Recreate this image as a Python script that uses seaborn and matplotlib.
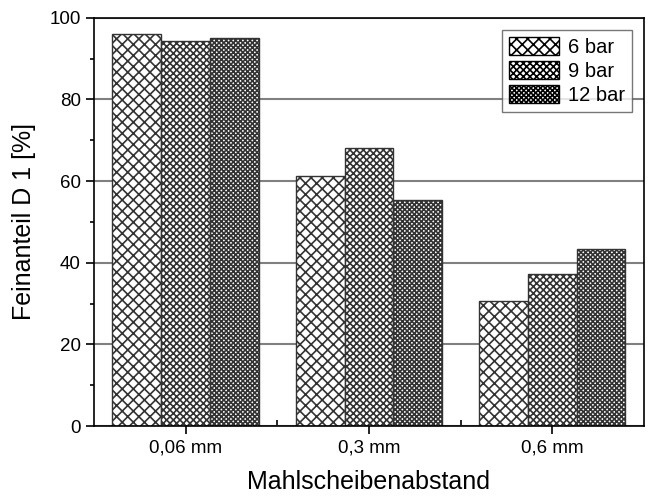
import matplotlib
matplotlib.use("Agg")
import matplotlib.pyplot as plt
from matplotlib.ticker import MultipleLocator
import seaborn as sns
import pandas as pd

# Data
abstand = ["0,06 mm", "0,3 mm", "0,6 mm"]
druck = ["6 bar", "9 bar", "12 bar"]
wert_6bar = [96.1, 61.3, 30.6]
wert_9bar = [94.4, 68.1, 37.3]
wert_12bar = [95.1, 55.4, 43.4]

df = pd.DataFrame({
    "Abstand": abstand * 3,
    "Druck": [druck[0]] * 3 + [druck[1]] * 3 + [druck[2]] * 3,
    "Feinanteil": wert_6bar + wert_9bar + wert_12bar,
})

sns.set_style("white")
plt.rcParams['font.family'] = ['Liberation Sans', 'DejaVu Sans']
plt.rcParams['hatch.linewidth'] = 1.2
plt.rcParams['text.color'] = 'black'
plt.rcParams['axes.labelcolor'] = 'black'
plt.rcParams['xtick.color'] = 'black'
plt.rcParams['ytick.color'] = 'black'

fig = plt.figure(figsize=(6.49, 4.96), dpi=100)
ax = fig.add_axes([0.145, 0.141, 0.847, 0.823])

hatches = ["xxx", "xxxxx", "xxxxxxx"]
sns.barplot(data=df, x="Abstand", y="Feinanteil", hue="Druck",
            order=abstand, hue_order=druck, width=0.8, ax=ax,
            palette=["white"] * 3, edgecolor="#333333",
            linewidth=1.0, errorbar=None, saturation=1)

for i, cont in enumerate(ax.containers):
    for bar in cont:
        bar.set_hatch(hatches[i])
        bar.set_facecolor("white")
        bar.set_edgecolor("#333333")
        bar.set_zorder(2)

ax.set_ylim(0, 100)
ax.set_xlim(-0.5, 2.5)
ax.yaxis.set_major_locator(MultipleLocator(20))
ax.yaxis.set_minor_locator(MultipleLocator(10))
ax.set_xticks([0.5, 1.5], minor=True)

ax.grid(axis="y", color="#808080", linewidth=1.5, zorder=0)
ax.set_axisbelow(True)

for s in ax.spines.values():
    s.set_color("black")
    s.set_linewidth(1.2)

ax.tick_params(axis="both", which="major", direction="out", length=6,
               width=1.2, labelsize=13.5, labelcolor="black")
ax.tick_params(axis="y", which="minor", direction="out", length=3,
               width=1.2, left=True)
ax.tick_params(axis="x", which="minor", direction="in", length=4,
               width=1.2, bottom=True)
ax.tick_params(axis="y", which="major", left=True)
ax.tick_params(axis="x", which="major", bottom=True)

ax.set_xlabel("Mahlscheibenabstand", fontsize=18, labelpad=10, color="black")
ax.set_ylabel("Feinanteil D 1 [%]", fontsize=18, labelpad=10, color="black")

leg = ax.legend(loc="upper right", fontsize=14.5, frameon=True, fancybox=False,
                edgecolor="#555555", borderpad=0.35, handlelength=2.5,
                handleheight=1.0, labelspacing=0.2, handletextpad=0.4,
                borderaxespad=0, bbox_to_anchor=(0.978, 0.97))
leg.get_frame().set_linewidth(1.0)
for t in leg.get_texts():
    t.set_color("black")
for h, hat in zip(leg.legend_handles, hatches):
    h.set_hatch(hat)
    h.set_facecolor("white")
    h.set_edgecolor("black")

fig.savefig("out.png", dpi=100)
